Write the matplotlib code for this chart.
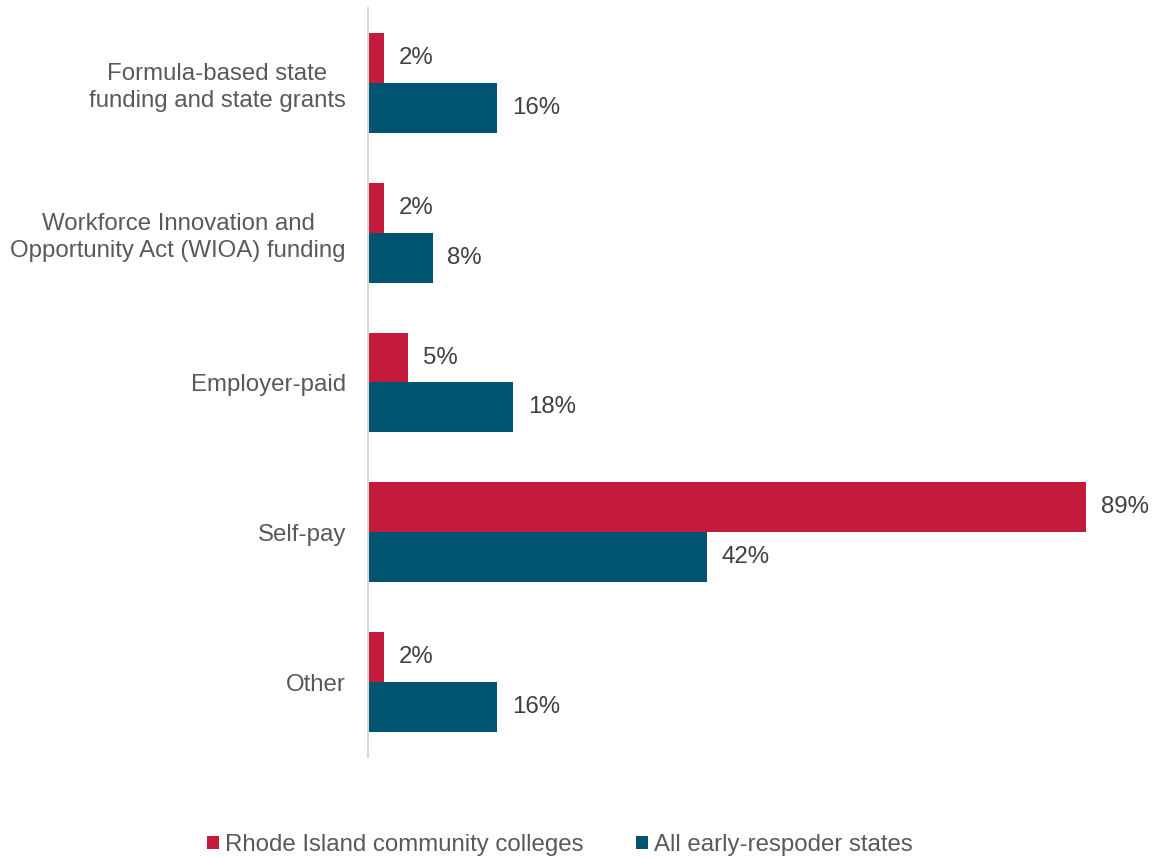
import numpy as np
import matplotlib.pyplot as plt

plt.rcParams['font.family'] = ['Liberation Sans', 'DejaVu Sans']

categories = ["Formula-based state\nfunding and state grants",
              "Workforce Innovation and\nOpportunity Act (WIOA) funding",
              "Employer-paid",
              "Self-pay",
              "Other"]
rhode_island = [2, 2, 5, 89, 2]
all_states = [16, 8, 18, 42, 16]
series_names = ["Rhode Island community colleges", "All early-respoder states"]

red = "#C41A3B"
blue = "#00546F"
fs = 17.3

W, H = 1157, 858
fig = plt.figure(figsize=(W / 100, H / 100), dpi=100)
ax = fig.add_axes([368 / W, 1 - 757 / H, (1150 - 368) / W, 749 / H])

y = np.arange(len(categories))
h = 1 / 3
b1 = ax.barh(y - h / 2, rhode_island, height=h, color=red, label=series_names[0])
b2 = ax.barh(y + h / 2, all_states, height=h, color=blue, label=series_names[1])

px_per_pct = 718 / 89
ax.set_xlim(0, (1150 - 368) / px_per_pct)
ax.set_ylim(len(categories) - 0.5, -0.5)

for bars, vals in [(b1, rhode_island), (b2, all_states)]:
    for bar, v in zip(bars, vals):
        ax.annotate(f"{v}%", (v, bar.get_y() + bar.get_height() / 2),
                    xytext=(10.5, 0), textcoords="offset points",
                    ha="left", va="center", fontsize=fs, color="#404040")

ax.set_yticks(y)
ax.set_yticklabels(categories, fontsize=fs, color="#595959",
                   multialignment="center", linespacing=1.3)
ax.tick_params(axis="y", length=0, pad=16)
ax.set_xticks([])
for s in ["top", "right", "bottom"]:
    ax.spines[s].set_visible(False)
ax.spines["left"].set_color("#D9D9D9")
ax.spines["left"].set_linewidth(1.5)

fig.legend(handles=[b1, b2], labels=series_names, loc="center",
           bbox_to_anchor=(560 / W, 1 - 845 / H), ncol=2, frameon=False,
           fontsize=fs, labelcolor="#595959", handlelength=0.5, handleheight=0.5,
           handletextpad=0.25, columnspacing=2.2)

fig.savefig("out.png", dpi=100)
